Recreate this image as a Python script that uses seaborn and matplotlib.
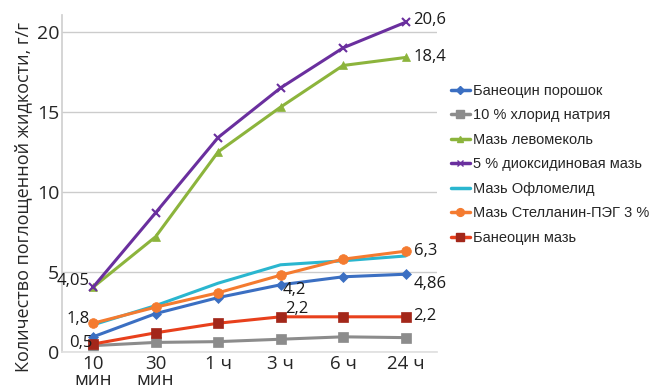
import matplotlib
matplotlib.use("Agg")
import matplotlib.pyplot as plt
import seaborn as sns
import pandas as pd
import numpy as np

categories = ["10\nмин", "30\nмин", "1 ч", "3 ч", "6 ч", "24 ч"]
baneocin_powder = [0.95, 2.4, 3.4, 4.2, 4.7, 4.86]
nacl_10 = [0.4, 0.6, 0.65, 0.8, 0.95, 0.9]
levomekol = [4.05, 7.2, 12.5, 15.3, 17.9, 18.4]
dioxidine_5 = [4.05, 8.7, 13.4, 16.5, 19.0, 20.6]
oflomelid = [1.7, 2.9, 4.3, 5.45, 5.7, 6.0]
stellanin = [1.8, 2.8, 3.7, 4.8, 5.8, 6.3]
baneocin_ointment = [0.5, 1.2, 1.8, 2.2, 2.2, 2.2]

series_names = ["Банеоцин порошок", "10 % хлорид натрия", "Мазь левомеколь",
                "5 % диоксидиновая мазь", "Мазь Офломелид",
                "Мазь Стелланин-ПЭГ 3 %", "Банеоцин мазь"]
series_values = [baneocin_powder, nacl_10, levomekol, dioxidine_5,
                 oflomelid, stellanin, baneocin_ointment]

sns.set_theme(style="white")
plt.rcParams['font.family'] = ['Open Sans', 'DejaVu Sans']

colors = ["#3b6fc2", "#8c8c8c", "#8cb43c", "#6a2f9e", "#2ab6cf", "#f47b30", "#e8401c"]
mcolors = ["#3b6fc2", "#8c8c8c", "#8cb43c", "#6a2f9e", "#2ab6cf", "#f47b30", "#a3271a"]
markers = ["D", "s", "^", "x", "", "o", "s"]
msizes = [5, 7, 6, 6, 0, 7, 7]

fig = plt.figure(figsize=(6.51, 3.86), dpi=100)
ax = fig.add_axes([0.095, 0.088, 0.576, 0.873])

x = np.arange(len(categories))
handles = []
for name, vals, c, mc, m, ms in zip(series_names, series_values, colors, mcolors, markers, msizes):
    df = pd.DataFrame({"x": x, "y": vals})
    sns.lineplot(data=df, x="x", y="y", ax=ax, color=c, linewidth=2.2,
                 marker=m if m else None, markersize=ms,
                 markerfacecolor=mc, markeredgecolor=mc, markeredgewidth=1.5 if m == "x" else 0.5)
    handles.append(plt.Line2D([], [], color=c, linewidth=2.5, marker=m if m else None,
                              markersize=ms * 0.8, markerfacecolor=mc, markeredgecolor=mc))

ax.set_xlim(-0.5, 5.5)
ax.set_ylim(0, 21.05)
ax.set_yticks([0, 5, 10, 15, 20])
ax.set_xticks(x)
ax.set_xticklabels(categories, fontsize=13.5, linespacing=0.85)
ax.tick_params(axis='y', labelsize=14, pad=2, length=0)
ax.tick_params(axis='x', pad=2, length=0)
ax.yaxis.grid(True, color="#cccccc", linewidth=1)
ax.set_axisbelow(True)
for s in ["top", "right"]:
    ax.spines[s].set_visible(False)
ax.spines["left"].set_color("#d0d0d0")
ax.spines["bottom"].set_color("#e0e0e0")
ax.set_xlabel("")
ax.set_ylabel("Количество поглощенной жидкости, г/г", fontsize=13, labelpad=4)
ax.yaxis.set_label_coords(-0.078, 0.46)

lab_kw = dict(textcoords="offset pixels", fontsize=12, color="#1a1a1a")
ax.annotate("4,05", (0, 4.05), xytext=(-3, 6), ha="right", va="center", **lab_kw)
ax.annotate("1,8", (0, 1.8), xytext=(-3, 4), ha="right", va="center", **lab_kw)
ax.annotate("0,5", (0, 0.5), xytext=(-1, 1), ha="right", va="center", **lab_kw)
ax.annotate("4,2", (3, 4.2), xytext=(2, -5), ha="left", va="center", **lab_kw)
ax.annotate("2,2", (3, 2.2), xytext=(5, 8), ha="left", va="center", **lab_kw)
ax.annotate("20,6", (5, 20.6), xytext=(8, 2), ha="left", va="center", **lab_kw)
ax.annotate("18,4", (5, 18.4), xytext=(8, 0), ha="left", va="center", **lab_kw)
ax.annotate("6,3", (5, 6.3), xytext=(8, 0), ha="left", va="center", **lab_kw)
ax.annotate("4,86", (5, 4.86), xytext=(8, -10), ha="left", va="center", **lab_kw)
ax.annotate("2,2", (5, 2.2), xytext=(8, 1), ha="left", va="center", **lab_kw)

leg = fig.legend(handles, series_names, loc="upper left", bbox_to_anchor=(0.688, 0.79),
                 frameon=False, handlelength=1.3, handletextpad=0.2, labelspacing=0.72,
                 borderaxespad=0, borderpad=0.2,
                 prop={"family": ["Liberation Sans", "DejaVu Sans"], "size": 10.5})

fig.savefig("out.png", dpi=100, facecolor="white")
